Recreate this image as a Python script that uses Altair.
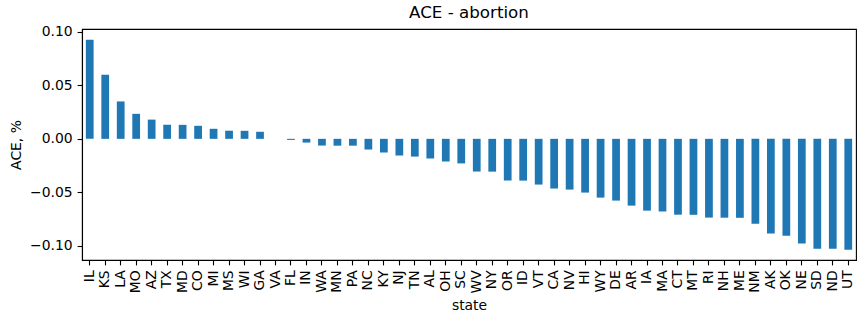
import altair as alt
import pandas as pd

states = ["IL","KS","LA","MO","AZ","TX","MD","CO","MI","MS","WI","GA","VA","FL",
          "IN","WA","MN","PA","NC","KY","NJ","TN","AL","OH","SC","WV","NY","OR",
          "ID","VT","CA","NV","HI","WY","DE","AR","IA","MA","CT","MT","RI","NH",
          "ME","NM","AK","OK","NE","SD","ND","UT"]
ace = [0.0928, 0.0600, 0.0350, 0.0234, 0.0180, 0.0132, 0.0131, 0.0122, 0.0094,
       0.0076, 0.0075, 0.0066, 0.0000, -0.0010,
       -0.0035, -0.0063, -0.0064, -0.0064, -0.0100, -0.0128, -0.0156, -0.0166,
       -0.0184, -0.0212, -0.0230, -0.0306, -0.0307, -0.0390,
       -0.0391, -0.0428, -0.0465, -0.0475, -0.0503, -0.0550, -0.0578, -0.0625,
       -0.0672, -0.0680, -0.0710, -0.0711, -0.0737, -0.0738,
       -0.0739, -0.0794, -0.0887, -0.0906, -0.0980, -0.1028, -0.1029, -0.1037]

df = pd.DataFrame({"state": states, "ace": ace})

font = "DejaVu Sans"
fs = 13.9

axis_common = dict(labelFontSize=fs, labelFont=font, labelColor="black",
                   tickColor="black", tickSize=4.9, tickWidth=1.1,
                   domainColor="black", domainWidth=1.1, labelPadding=4.9,
                   titleFont=font, titleFontSize=fs, titleFontWeight="normal",
                   titleColor="black", grid=False)

chart = alt.Chart(df).mark_bar(color="#1f77b4").encode(
    x=alt.X("state:N", sort=states,
            scale=alt.Scale(paddingInner=0.5, paddingOuter=0.25),
            axis=alt.Axis(title="state", labelAngle=270, titlePadding=5,
                          **axis_common)),
    y=alt.Y("ace:Q", scale=alt.Scale(domain=[-0.1134, 0.1028], nice=False, zero=False),
            axis=alt.Axis(title="ACE, %", values=[-0.10, -0.05, 0.0, 0.05, 0.10],
                          format=".2f", titlePadding=6, **axis_common)),
).properties(
    width=774, height=231,
    title=alt.TitleParams("ACE - abortion", font=font, fontSize=16.7,
                          fontWeight="normal", color="black", offset=3),
    autosize="none",
    padding={"left": 82, "top": 29, "right": 10, "bottom": 63},
).configure_view(stroke="black", strokeWidth=1.1)

chart.save("out.html", embed_options={"renderer": "svg", "actions": False})
